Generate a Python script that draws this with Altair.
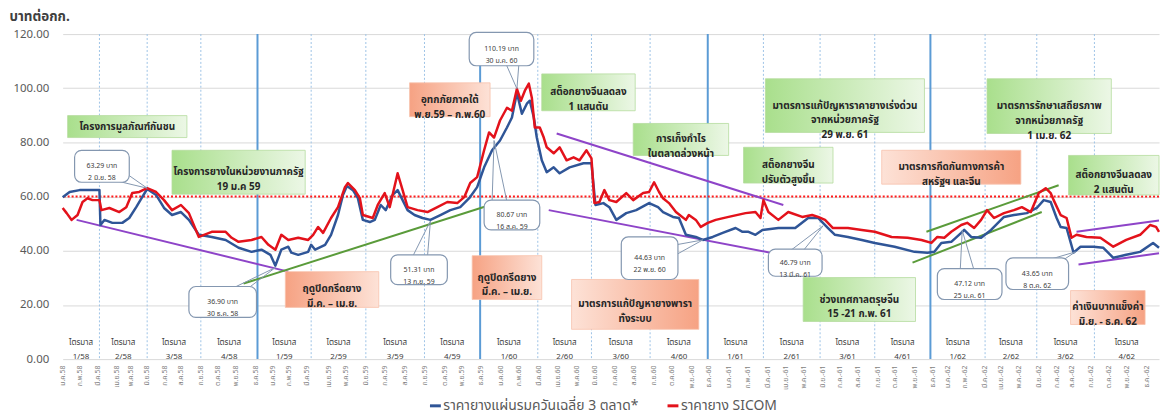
import altair as alt
import pandas as pd

BLUE_NAME = "ราคายางแผ่นรมควันเฉลี่ย 3 ตลาด*"
RED_NAME = "ราคายาง SICOM"

# x = trading-day index along the category axis
blue_idx = [0, 7, 17, 37, 38, 42, 50, 60, 67, 74, 80, 85, 94, 102, 110, 119, 127, 137, 150, 164,
            177, 190, 200, 209, 214, 220, 227, 230, 237, 247, 250, 254, 264, 270, 277, 282, 286, 292,
            297, 302, 309, 314, 320, 325, 332, 337, 342, 347, 354, 362, 370, 380, 390, 400, 409, 417,
            424, 432, 440, 447, 452, 457, 462, 467, 470, 474, 477, 482, 487, 494, 500, 510, 524, 532,
            536, 544, 550, 557, 567, 577, 590, 599, 604, 614, 620, 627, 637, 644, 654, 664, 677, 684,
            690, 697, 704, 720, 737, 750, 760, 770, 777, 790, 804, 817, 837, 857, 870, 877, 884, 894,
            904, 907, 914, 924, 934, 947, 957, 970, 980, 987, 994, 1000, 1004, 1010, 1017, 1024, 1037,
            1047, 1057, 1070, 1084, 1097, 1103]
blue_val = [59.8, 61.7, 62.4, 62.4, 49.5, 51.4, 50.3, 50.3, 52.1, 56.1, 59.8, 62.8, 60.6, 55.8, 53.2,
            54.3, 51.4, 45.9, 45.1, 44.0, 41.1, 39.6, 40.4, 38.5, 34.5, 40.4, 41.5, 39.3, 38.5, 39.6,
            42.2, 40.4, 42.2, 45.9, 53.2, 60.6, 63.9, 62.4, 59.4, 51.4, 50.6, 51.4, 56.9, 55.0, 60.6,
            62.4, 58.7, 55.0, 53.2, 52.1, 51.4, 53.2, 55.0, 56.1, 59.4, 63.5, 70.8, 77.1, 80.7, 85.5,
            89.2, 98.3, 90.6, 94.3, 95.4, 89.2, 81.8, 73.4, 69.0, 70.8, 68.6, 70.8, 72.3, 72.3, 56.9,
            57.6, 56.1, 51.4, 53.9, 55.0, 57.6, 56.1, 54.3, 52.5, 52.1, 45.9, 45.1, 44.0, 45.1, 46.6,
            48.4, 47.0, 47.0, 45.9, 47.7, 48.4, 48.4, 52.1, 52.1, 48.4, 45.9, 45.1, 44.0, 42.9, 41.5,
            39.6, 39.3, 39.6, 42.9, 43.3, 46.6, 47.7, 45.1, 44.8, 47.7, 52.5, 53.2, 53.9, 55.8, 58.7,
            58.0, 52.1, 48.8, 48.4, 39.3, 41.5, 41.5, 41.1, 37.4, 38.5, 39.6, 42.9, 41.1]

red_idx = [0, 4, 9, 15, 20, 25, 30, 37, 39, 47, 57, 64, 70, 77, 85, 94, 102, 110, 119, 127, 134, 137,
           150, 164, 170, 177, 190, 200, 207, 214, 220, 227, 237, 247, 252, 257, 262, 270, 277, 284,
           287, 294, 299, 302, 312, 317, 324, 329, 337, 342, 347, 357, 367, 377, 387, 397, 404, 410,
           417, 424, 429, 434, 440, 447, 452, 457, 461, 465, 469, 472, 475, 480, 484, 487, 494, 500,
           507, 514, 520, 527, 532, 535, 540, 545, 550, 557, 567, 574, 584, 590, 595, 600, 604, 610,
           617, 627, 630, 637, 642, 649, 657, 670, 687, 697, 702, 705, 710, 720, 730, 744, 754, 760,
           767, 775, 790, 804, 817, 834, 850, 864, 874, 880, 887, 894, 904, 910, 917, 924, 930, 937,
           947, 957, 965, 974, 982, 989, 994, 997, 1004, 1010, 1015, 1020, 1030, 1044, 1057, 1070,
           1084, 1094, 1100, 1103]
red_val = [55.8, 53.9, 51.4, 53.2, 58.0, 59.4, 58.7, 58.7, 55.0, 55.8, 54.3, 56.1, 61.3, 61.7, 63.1,
           61.7, 58.7, 55.0, 56.9, 53.9, 47.7, 45.1, 47.0, 47.0, 44.8, 43.3, 44.0, 45.1, 42.2, 40.4,
           45.9, 44.0, 44.8, 44.0, 45.9, 48.8, 46.6, 52.1, 56.1, 63.5, 65.0, 62.4, 59.4, 53.2, 52.1,
           56.9, 61.3, 56.1, 68.6, 62.4, 56.1, 55.0, 54.3, 56.1, 58.0, 57.6, 59.8, 65.0, 67.2, 77.1,
           83.7, 81.8, 88.1, 92.8, 91.7, 99.8, 95.4, 99.1, 101.7, 96.5, 85.5, 85.5, 81.8, 78.2, 76.0,
           78.2, 73.4, 74.5, 73.4, 77.1, 74.1, 57.6, 58.0, 62.4, 58.7, 58.0, 61.3, 58.7, 61.3, 61.7,
           65.3, 61.7, 59.4, 57.6, 54.3, 51.4, 53.2, 51.4, 48.8, 50.3, 51.4, 52.5, 53.9, 54.3, 52.1,
           58.7, 54.3, 51.4, 54.3, 52.5, 53.2, 52.5, 51.4, 48.4, 48.4, 47.7, 47.0, 45.1, 44.8, 44.0,
           42.9, 45.1, 44.8, 47.0, 49.5, 50.3, 48.4, 51.4, 55.0, 52.1, 53.9, 55.0, 56.1, 54.3, 61.3,
           63.1, 61.3, 58.7, 53.2, 52.1, 44.8, 45.9, 45.1, 44.8, 41.5, 44.0, 45.9, 49.5, 48.8, 47.0]

quarter_bounds = [0, 37, 85, 139, 196, 250, 305, 364, 420, 478, 532, 591, 649, 705, 762, 817, 873,
                  928, 980, 1038, 1103]
year_bounds = [196, 420, 649, 873]
quarter_names = ["1/58", "2/58", "3/58", "4/58", "1/59", "2/59", "3/59", "4/59", "1/60", "2/60",
                 "3/60", "4/60", "1/61", "2/61", "3/61", "4/61", "1/62", "2/62", "3/62", "4/62"]

month_pos = [0, 17, 35, 54, 68, 84, 102, 119, 139, 156, 174, 194, 211, 227, 245, 267, 285, 305, 324,
             344, 364, 384, 401, 420, 440, 459, 479, 498, 517, 535, 555, 574, 594, 613, 633, 650,
             670, 689, 709, 727, 745, 764, 782, 800, 820, 837, 857, 875, 890, 907, 927, 944, 962,
             982, 1000, 1015, 1034, 1052, 1070, 1090]
month_names = ["ม.ค.58", "ก.พ.58", "มี.ค.58", "เม.ย.58", "พ.ค.58", "มิ.ย.58", "ก.ค.58", "ส.ค.58",
               "ก.ย.58", "ต.ค.58", "พ.ย.58", "ธ.ค.58", "ม.ค.59", "ก.พ.59", "มี.ค.59", "เม.ย.59",
               "พ.ค.59", "มิ.ย.59", "ก.ค.59", "ส.ค.59", "ก.ย.59", "ต.ค.59", "พ.ย.59", "ธ.ค.59",
               "ม.ค.60", "ก.พ.60", "มี.ค.60", "เม.ย.60", "พ.ค.60", "มิ.ย.60", "ก.ค.60", "ส.ค.60",
               "ก.ย.60", "ต.ค.60", "พ.ย.-60", "ธ.ค.-60", "ม.ค.-61", "ก.พ.-61", "มี.ค.-61",
               "เม.ย.-61", "พ.ค.-61", "มิ.ย.-61", "ก.ค.-61", "ส.ค.-61", "ก.ย.-61", "ต.ค.-61",
               "พ.ย.-61", "ธ.ค.-61", "ม.ค.-62", "ก.พ.-62", "มี.ค.-62", "เม.ย.-62", "พ.ค.-62",
               "มิ.ย.-62", "ก.ค.-62", "ส.ค.-62", "ก.ย.-62", "ต.ค.-62", "พ.ย.-62", "ธ.ค.-62"]

ref_level = [60]

# trend lines (start idx, start value, end idx, end value)
trend_x1 = [14, 182, 497, 489, 869, 855, 1020, 1022]
trend_y1 = [51.4, 27.9, 83.3, 55.0, 47.0, 35.6, 47.0, 34.9]
trend_x2 = [227, 430, 725, 712, 1002, 985, 1103, 1103]
trend_y2 = [32.3, 56.9, 56.9, 39.3, 64.2, 54.3, 51.2, 39.1]
trend_kind = ["p", "g", "p", "p", "g", "g", "p", "p"]

# annotation boxes
box_text = ["โครงการมูลภัณฑ์กันชน",
            "โครงการยางในหน่วยงานภาครัฐ\n19 ม.ค 59",
            "อุทกภัยภาคใต้\nพ.ย.59 – ก.พ.60",
            "สต็อกยางจีนลดลง\n1 แสนตัน",
            "การเก็งกำไร\nในตลาดล่วงหน้า",
            "มาตรการแก้ปัญหาราคายางเร่งด่วน\nจากหน่วยภาครัฐ\n29 พ.ย. 61",
            "มาตรการรักษาเสถียรภาพ\nจากหน่วยภาครัฐ\n1 เม.ย. 62",
            "สต็อกยางจีน\nปรับตัวสูงขึ้น",
            "มาตรการกีดกันทางการค้า\nสหรัฐฯ และจีน",
            "สต็อกยางจีนลดลง\n2 แสนตัน",
            "ฤดูปิดกรีดยาง\nมี.ค. – เม.ย.",
            "ฤดูปิดกรีดยาง\nมี.ค. – เม.ย.",
            "มาตรการแก้ปัญหายางพารา\nทั้งระบบ",
            "ช่วงเทศกาลตรุษจีน\n15 -21 ก.พ. 61",
            "ค่าเงินบาทแข็งค่า\nมิ.ย. - ธ.ค. 62"]
box_x1 = [5, 110, 349, 482, 574, 707, 930, 685, 824, 1012, 224, 412, 512, 745, 1014]
box_x2 = [125, 244, 430, 576, 670, 867, 1055, 775, 964, 1103, 318, 482, 640, 858, 1089]
box_y1 = [81.8, 60.9, 89.5, 91.7, 75.2, 83.7, 83.3, 65.0, 64.6, 60.6, 19.1, 22.0, 11.0, 13.9, 12.8]
box_y2 = [89.9, 77.1, 102.0, 105.3, 87.0, 103.5, 103.5, 78.2, 77.1, 75.2, 32.3, 38.2, 29.4, 30.1, 25.3]
box_style = ["g", "g", "oL", "g", "g", "g", "g", "g", "oR", "g", "oL", "oL", "oR", "g", "oR"]

# price callouts
call_text = ["63.29 บาท\n2 มิ.ย. 58", "36.90 บาท\n30 ธ.ค. 58", "51.31 บาท\n13 ก.ย. 59",
             "80.67 บาท\n16 ส.ค. 59", "110.19 บาท\n30 ม.ค. 60", "44.63 บาท\n22 พ.ย. 60",
             "46.79 บาท\n13 มี.ค. 61", "47.12 บาท\n25 ม.ค. 61", "43.65 บาท\n8 ต.ค. 62"]
call_x1 = [12, 127, 330, 424, 409, 562, 710, 880, 949]
call_x2 = [67, 195, 387, 480, 474, 619, 764, 945, 1012]
call_y1 = [65.3, 15.4, 27.5, 47.7, 108.3, 29.4, 30.6, 22.0, 25.7]
call_y2 = [77.1, 26.8, 38.5, 58.7, 120.6, 45.1, 40.6, 33.4, 37.4]
call_tx = [85, 214, 370, 434, 457, 644, 765, 905, 1019]
call_ty = [63.1, 33.8, 51.0, 80.7, 99.8, 44.0, 49.2, 47.5, 39.6]
call_bx1 = [52, 170, 352, 432, 446, 617, 732, 903, 992]
call_bx2 = [64, 186, 367, 447, 459, 617, 745, 917, 1007]
call_by1 = [66.0, 26.0, 37.8, 58.0, 109.0, 42.2, 40.0, 32.7, 36.7]
call_by2 = [68.5, 26.0, 37.8, 58.0, 109.0, 38.5, 40.0, 32.7, 36.7]

# ---------------------------------------------------------------------------
FONT = "Tahoma, 'Noto Sans Thai', 'Noto Sans', sans-serif"
xs = alt.Scale(domain=[0, 1103], nice=False, zero=False)
ys = alt.Scale(domain=[0, 120], nice=False, zero=True)

label_expr = ("[" + ",".join("'%s'" % n for n in month_names) + "][indexof(["
              + ",".join(str(p) for p in month_pos) + "], datum.value)]")

x_axis = alt.Axis(values=month_pos, labelExpr=label_expr, labelAngle=270, labelAlign="right",
                  labelBaseline="middle", labelFontSize=7, labelColor="#7f7f7f", ticks=False,
                  domain=False, grid=False, labelOverlap=False, labelFlush=False, labelPadding=6,
                  title=None)
y_axis = alt.Axis(values=[0, 20, 40, 60, 80, 100, 120], format=".2f", labelFontSize=11.5,
                  labelColor="#595959", ticks=False, domain=False, grid=True, gridColor="#d9d9d9",
                  labelPadding=14, title="บาทต่อกก.", titleAngle=0, titleX=-54, titleY=-18,
                  titleAlign="left", titleBaseline="middle", titleFontSize=13.5, titleFontWeight="bold",
                  titleColor="#404040", minExtent=50, maxExtent=50)


def X(field, **kw):
    return alt.X(field, type="quantitative", scale=xs, axis=x_axis, **kw)


def Y(field, **kw):
    return alt.Y(field, type="quantitative", scale=ys, axis=y_axis, **kw)


series = pd.concat([
    pd.DataFrame({"i": blue_idx, "v": blue_val, "s": BLUE_NAME}),
    pd.DataFrame({"i": red_idx, "v": red_val, "s": RED_NAME}),
])

lines = alt.Chart(series).mark_line(strokeWidth=2.5, strokeJoin="round").encode(
    x=X("i"), y=Y("v"),
    color=alt.Color("s:N", scale=alt.Scale(domain=[BLUE_NAME, RED_NAME], range=["#2f5597", "#e3121b"]),
                    legend=alt.Legend(title=None, orient="none", legendX=368, legendY=367,
                                      direction="horizontal", symbolType="stroke", symbolSize=120,
                                      symbolStrokeWidth=3, labelFontSize=14, labelColor="#595959",
                                      labelLimit=400, columnPadding=22, labelOffset=1)),
)

qdf = pd.DataFrame({"q": [b for b in quarter_bounds[1:-1] if b not in year_bounds]})
qlines = alt.Chart(qdf).mark_rule(color="#9dc3e6", strokeWidth=1, strokeDash=[2, 2]).encode(x=X("q"))
ylines = alt.Chart(pd.DataFrame({"q": year_bounds})).mark_rule(color="#5b9bd5", strokeWidth=2).encode(x=X("q"))

refline = alt.Chart(pd.DataFrame({"v": ref_level})).mark_rule(
    color="#ff1a1a", strokeWidth=2, strokeDash=[2, 2]).encode(y=Y("v"))

tdf = pd.DataFrame({"x1": trend_x1, "y1": trend_y1, "x2": trend_x2, "y2": trend_y2, "k": trend_kind})
trend_p = alt.Chart(tdf[tdf.k == "p"]).mark_rule(strokeWidth=2, color="#8e44c8").encode(
    x=X("x1"), y=Y("y1"), x2="x2", y2="y2")
trend_g = alt.Chart(tdf[tdf.k == "g"]).mark_rule(strokeWidth=2, color="#5a9b3a").encode(
    x=X("x1"), y=Y("y1"), x2="x2", y2="y2")

qlab = pd.DataFrame({
    "c": [(quarter_bounds[k] + quarter_bounds[k + 1]) / 2 for k in range(len(quarter_names))],
    "t": ["ไตรมาส\n" + n for n in quarter_names],
    "v": [6.0] * len(quarter_names),
})
qtext = alt.Chart(qlab).mark_text(fontSize=8, color="#404040", lineBreak="\n", lineHeight=14,
                                  baseline="middle", font=FONT).encode(x=X("c"), y=Y("v"), text="t:N")

bdf = pd.DataFrame({"x1": box_x1, "x2": box_x2, "y1": box_y1, "y2": box_y2, "t": box_text, "st": box_style})
bdf["cx"] = (bdf.x1 + bdf.x2) / 2
bdf["cy"] = (bdf.y1 + bdf.y2) / 2

grad_g = alt.Gradient(gradient="linear", x1=0, x2=1, y1=0, y2=0,
                      stops=[alt.GradientStop(color="#a9df8c", offset=0),
                             alt.GradientStop(color="#ecf7e6", offset=1)])
grad_oL = alt.Gradient(gradient="linear", x1=0, x2=1, y1=0, y2=0,
                       stops=[alt.GradientStop(color="#f6a283", offset=0),
                              alt.GradientStop(color="#fde2d7", offset=1)])
grad_oR = alt.Gradient(gradient="linear", x1=0, x2=1, y1=0, y2=0,
                       stops=[alt.GradientStop(color="#fde2d7", offset=0),
                              alt.GradientStop(color="#f6a283", offset=1)])


def boxes(style, grad, stroke):
    return alt.Chart(bdf[bdf.st == style]).mark_rect(fill=grad, stroke=stroke, strokeWidth=0.8).encode(
        x=X("x1"), x2="x2", y=Y("y1"), y2="y2")


box_layers = [boxes("g", grad_g, "#b5dc9e"), boxes("oL", grad_oL, "#f8c2ad"), boxes("oR", grad_oR, "#f8c2ad")]
box_txt = alt.Chart(bdf).mark_text(fontSize=10, fontWeight="bold", color="#262626", lineBreak="\n",
                                   lineHeight=15, baseline="middle", font=FONT).encode(
    x=X("cx"), y=Y("cy"), text="t:N")

cdf = pd.DataFrame({"x1": call_x1, "x2": call_x2, "y1": call_y1, "y2": call_y2, "t": call_text})
cdf["cx"] = (cdf.x1 + cdf.x2) / 2
cdf["cy"] = (cdf.y1 + cdf.y2) / 2
pdf = pd.DataFrame({
    "bx": call_bx1 + call_bx2, "by": call_by1 + call_by2,
    "tx": call_tx + call_tx, "ty": call_ty + call_ty,
})
pointers = alt.Chart(pdf).mark_rule(color="#8497b0", strokeWidth=1).encode(
    x=X("bx"), y=Y("by"), x2="tx", y2="ty")
cboxes = alt.Chart(cdf).mark_rect(fill="white", stroke="#8497b0", strokeWidth=1.2, cornerRadius=7).encode(
    x=X("x1"), x2="x2", y=Y("y1"), y2="y2")
ctext = alt.Chart(cdf).mark_text(fontSize=7, color="#404040", lineBreak="\n", lineHeight=12,
                                 baseline="middle", font=FONT).encode(x=X("cx"), y=Y("cy"), text="t:N")

chart = alt.layer(
    qlines, ylines, refline, trend_p, trend_g, lines, pointers, *box_layers, box_txt, cboxes, ctext, qtext
).properties(
    width=1103, height=327,
    autosize=alt.AutoSizeParams(type="none"),
    padding={"left": 55, "top": 25, "right": 4, "bottom": 58},
).configure(font=FONT).configure_view(stroke=None)

chart.save("out.html", embed_options={"renderer": "svg", "actions": False})
